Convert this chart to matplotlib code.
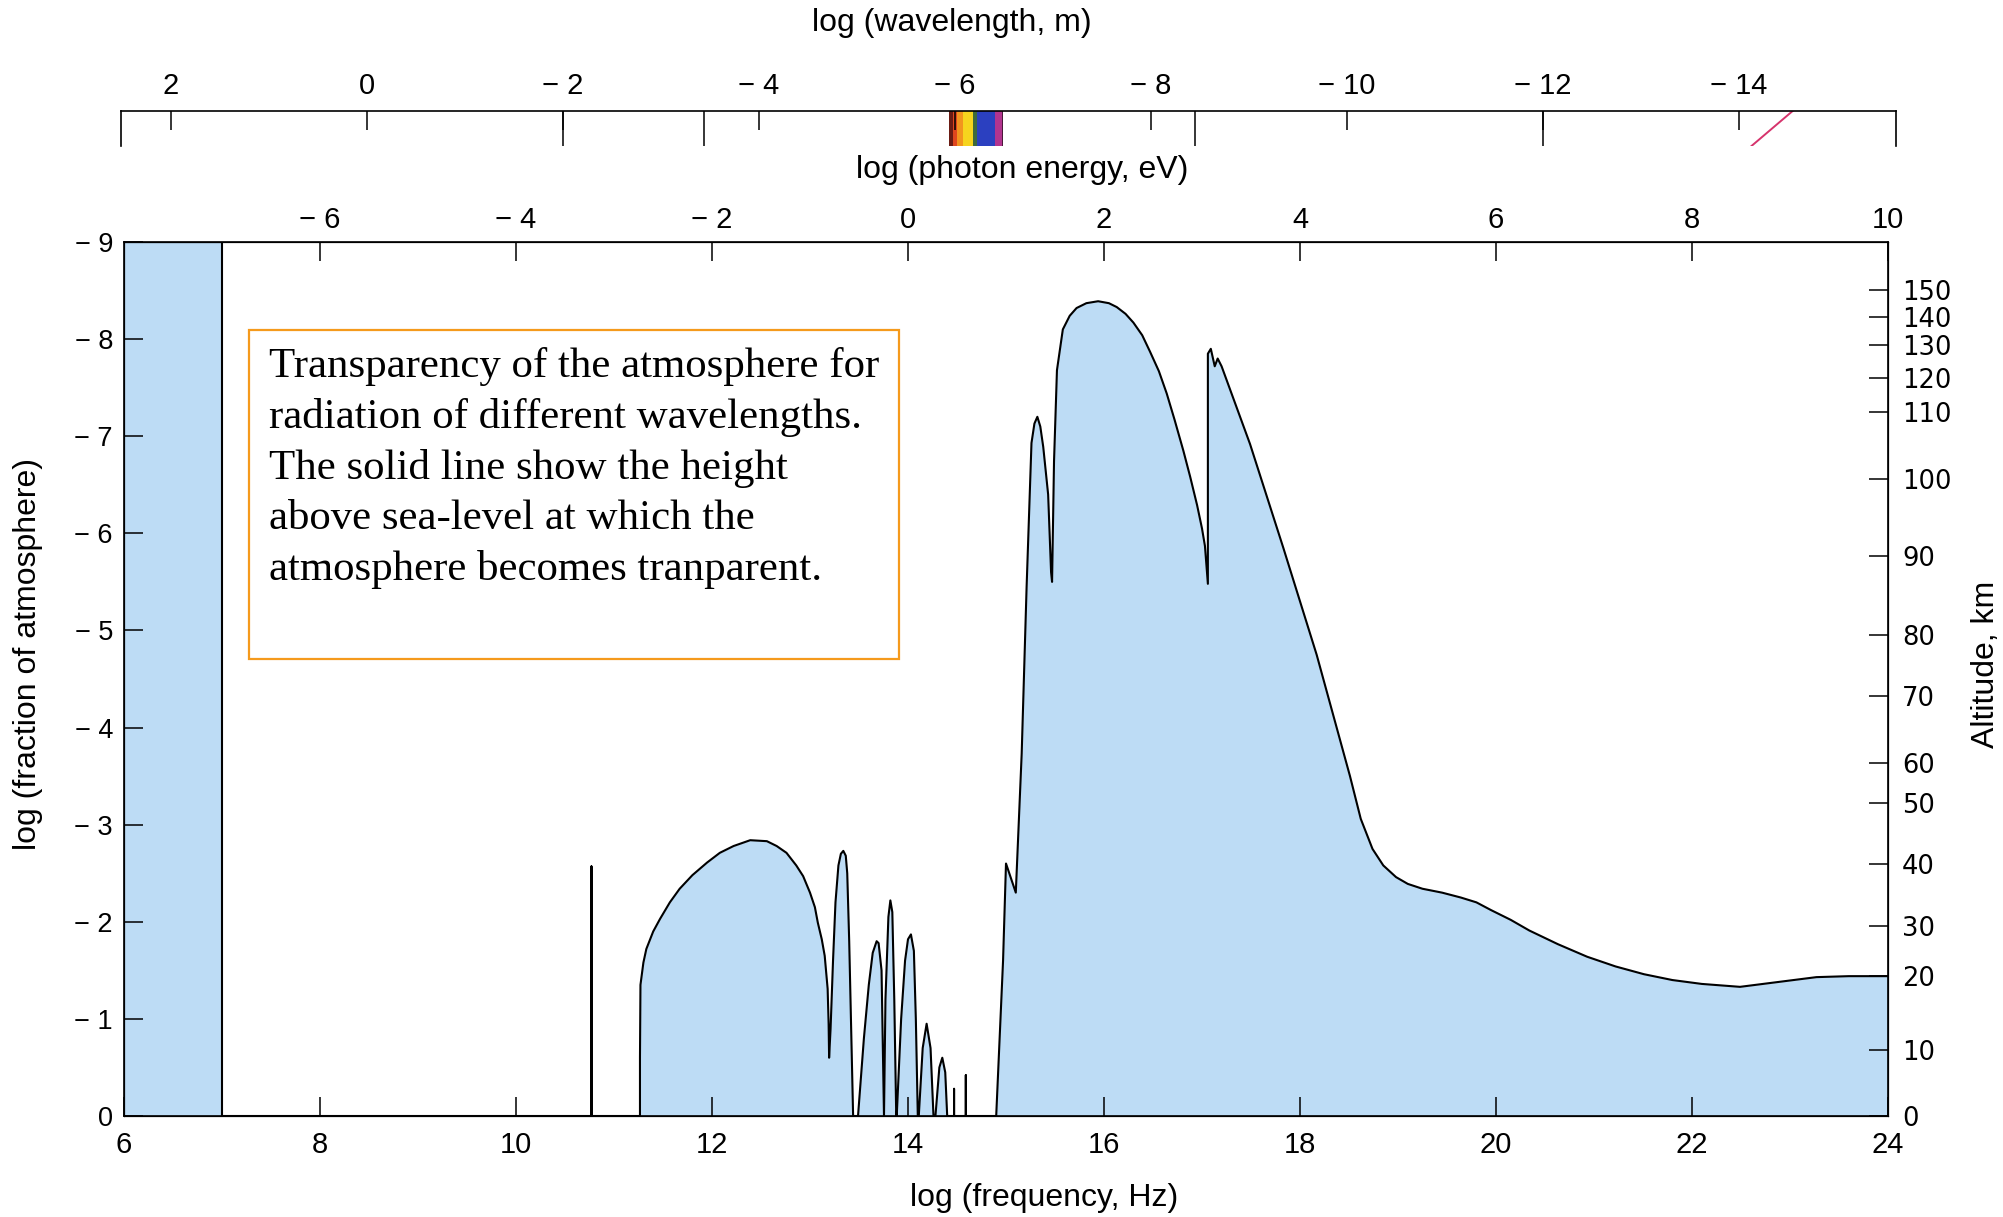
import numpy as np
import matplotlib
matplotlib.use("Agg")
import matplotlib.pyplot as plt
from matplotlib.patches import Rectangle

# --- data ---
# transparency curve: log frequency (Hz) vs log fraction of atmosphere above
FREQ = [6.0, 7.0, 7.0, 10.77, 10.77, 10.77,
        11.265, 11.265, 11.27, 11.30, 11.33, 11.40, 11.47, 11.57, 11.67, 11.80,
        11.95, 12.08, 12.22, 12.39, 12.56, 12.66, 12.76, 12.86, 12.93, 13.00,
        13.05, 13.08, 13.12, 13.15, 13.18, 13.19, 13.195, 13.21, 13.235, 13.26,
        13.29, 13.315, 13.34, 13.365, 13.38, 13.40, 13.42, 13.44,
        13.49, 13.55, 13.60, 13.64, 13.68, 13.70, 13.73, 13.755,
        13.77, 13.80, 13.82, 13.84, 13.86, 13.88,
        13.885, 13.93, 13.97, 14.00, 14.03, 14.06, 14.08, 14.10,
        14.11, 14.15, 14.19, 14.23, 14.26,
        14.28, 14.32, 14.35, 14.38, 14.40,
        14.47, 14.47, 14.47, 14.59, 14.59, 14.59,
        14.90, 14.97, 15.00, 15.05, 15.10, 15.16, 15.21, 15.26, 15.29, 15.32,
        15.35, 15.38, 15.43, 15.46, 15.47, 15.49, 15.52, 15.58, 15.65, 15.72,
        15.82, 15.94, 16.05, 16.13, 16.22, 16.30, 16.39, 16.47, 16.56, 16.64,
        16.72, 16.81, 16.88, 16.95, 17.00, 17.03, 17.06, 17.06, 17.09, 17.13,
        17.16, 17.20, 17.49, 17.83, 18.17, 18.51, 18.62, 18.74, 18.85, 18.98,
        19.10, 19.25, 19.45, 19.64, 19.80, 19.95, 20.15, 20.34, 20.63, 20.93,
        21.22, 21.51, 21.80, 22.10, 22.49, 22.88, 23.27, 23.60, 24.0]
LOGFRAC = [-9.0, -9.0, 0.0, 0.0, -2.57, 0.0,
           0.0, -0.6, -1.35, -1.58, -1.72, -1.90, -2.03, -2.20, -2.34, -2.48,
           -2.61, -2.71, -2.78, -2.84, -2.83, -2.78, -2.71, -2.58, -2.47, -2.30,
           -2.15, -1.99, -1.82, -1.65, -1.31, -0.95, -0.6, -0.9, -1.6, -2.2,
           -2.58, -2.70, -2.73, -2.68, -2.5, -1.8, -0.9, 0.0,
           0.0, -0.8, -1.35, -1.68, -1.80, -1.78, -1.5, 0.0,
           -1.2, -2.05, -2.22, -2.1, -1.2, 0.0,
           0.0, -1.0, -1.6, -1.82, -1.87, -1.7, -1.0, 0.0,
           0.0, -0.7, -0.95, -0.7, 0.0,
           0.0, -0.5, -0.6, -0.45, 0.0,
           0.0, -0.28, 0.0, 0.0, -0.42, 0.0,
           0.0, -1.6, -2.6, -2.45, -2.3, -3.73, -5.44, -6.93, -7.13, -7.2,
           -7.1, -6.89, -6.4, -5.6, -5.5, -6.74, -7.68, -8.10, -8.24, -8.32,
           -8.37, -8.39, -8.37, -8.33, -8.26, -8.17, -8.04, -7.87, -7.67, -7.44,
           -7.17, -6.85, -6.58, -6.29, -6.05, -5.87, -5.48, -7.85, -7.9, -7.72,
           -7.80, -7.72, -6.92, -5.85, -4.75, -3.5, -3.06, -2.75, -2.58, -2.46,
           -2.39, -2.34, -2.30, -2.25, -2.2, -2.12, -2.02, -1.91, -1.77, -1.64,
           -1.54, -1.46, -1.40, -1.36, -1.33, -1.38, -1.43, -1.44, -1.44]

FREQ_TICKS = [6, 8, 10, 12, 14, 16, 18, 20, 22, 24]
FRAC_TICKS = [0, -1, -2, -3, -4, -5, -6, -7, -8, -9]
ENERGY_TICKS = [-6, -4, -2, 0, 2, 4, 6, 8, 10]
ENERGY_OFFSET = 14  # log E(eV) as drawn = log f - 14

ALT_KM = [0, 10, 20, 30, 40, 50, 60, 70, 80, 90, 100, 110, 120, 130, 140, 150]
ALT_POS = [0.0, 0.68, 1.44, 1.96, 2.59, 3.22, 3.64, 4.32, 4.95, 5.77, 6.56,
           7.25, 7.60, 7.94, 8.23, 8.51]

LOG_C = 8.477  # log wavelength = LOG_C - log f
WAVE_TICKS = [2, 0, -2, -4, -6, -8, -10, -12, -14]
WAVE_LONG_TICKS = [-2, -3.44, -8.45, -12]
RAINBOW_EDGES = [-5.944, -5.985, -6.020, -6.087, -6.183, -6.224, -6.411, -6.479, -6.495]
RAINBOW_COLORS = ['#6b1c14', '#e0461e', '#f2941e', '#f6d41e', '#3e6a3c',
                  '#2b40c0', '#b2348f', '#4a1a3a']
PINK_LINE = [-14.13, -14.55]

NOTE = ("Transparency of the atmosphere for\n"
        "radiation of different wavelengths.\n"
        "The solid line show the height\n"
        "above sea-level at which the\n"
        "atmosphere becomes tranparent.")

FILL = '#bddcf5'
SANS_N = ['Liberation Sans Narrow', 'Liberation Sans', 'DejaVu Sans']
SANS = ['Liberation Sans', 'DejaVu Sans']
SANS_W = ['DejaVu Sans']


def lab(v):
    # scanned labels put a gap between the minus sign and the digits
    return '\u2212 ' + str(-v) if v < 0 else str(v)


W, H = 2003, 1217
fig = plt.figure(figsize=(W / 100, H / 100), dpi=100)

def fx(px):
    return px / W

def fy(py):
    return 1 - py / H

# main axes (pixel box 124..1888 x 242..1116)
ax = fig.add_axes([fx(124), fy(1116), fx(1888 - 124), (1116 - 242) / H])
ax.fill_between(FREQ, LOGFRAC, 0, color=FILL, linewidth=0)
ax.plot(FREQ, LOGFRAC, color='black', lw=1.5, solid_joinstyle='round')
ax.set_xlim(6, 24)
ax.set_ylim(0, -9)
for s in ax.spines.values():
    s.set_linewidth(1.2)

ax.set_xticks(FREQ_TICKS)
ax.set_xticklabels([lab(t) for t in FREQ_TICKS], family=SANS, fontsize=21)
ax.set_yticks(FRAC_TICKS)
ax.set_yticklabels([lab(t) for t in FRAC_TICKS], family=SANS, fontsize=19.5)
ax.tick_params(axis='x', direction='in', length=14, width=1.1, pad=11)
ax.tick_params(axis='y', direction='in', length=14, width=1.1, pad=8)

# photon energy axis on top
ax_e = ax.twiny()
ax_e.set_xlim(6 - ENERGY_OFFSET, 24 - ENERGY_OFFSET)
ax_e.set_xticks(ENERGY_TICKS)
ax_e.set_xticklabels([lab(t) for t in ENERGY_TICKS], family=SANS, fontsize=21)
ax_e.tick_params(axis='x', direction='in', length=14, width=1.1, pad=6)

# altitude axis on the right
ax_r = ax.twinx()
ax_r.set_ylim(0, 9)
ax_r.set_yticks(ALT_POS)
ax_r.set_yticklabels([str(a) for a in ALT_KM], family=SANS_W, fontsize=18.5)
ax_r.tick_params(axis='y', direction='in', length=14, width=1.1, pad=10)

# wavelength strip
wl_left = LOG_C - (6 - 3 / 98)
wl_right = LOG_C - (24 + 8 / 98)
ax_w = fig.add_axes([fx(121), fy(146), fx(1896 - 121), (146 - 111) / H])
ax_w.set_xlim(wl_left, wl_right)
ax_w.set_ylim(0, 1)
ax_w.spines['bottom'].set_visible(False)
for s in ['top', 'left', 'right']:
    ax_w.spines[s].set_linewidth(1.2)
ax_w.set_yticks([])
ax_w.xaxis.set_ticks_position('top')
ax_w.set_xticks(WAVE_TICKS)
ax_w.set_xticklabels([lab(t) for t in WAVE_TICKS], family=SANS, fontsize=21)
ax_w.tick_params(axis='x', direction='in', length=14, width=1.1, pad=8)
ax_w.vlines(WAVE_LONG_TICKS, 0, 1, color='black', lw=1.1)
for i, c in enumerate(RAINBOW_COLORS):
    ax_w.axvspan(RAINBOW_EDGES[i], RAINBOW_EDGES[i + 1], color=c, lw=0)
ax_w.plot(PINK_LINE, [0, 1], color='#d6336c', lw=1.4)

# axis titles
fig.text(fx(952), fy(23), 'log (wavelength, m)', family=SANS_N, fontsize=23,
         ha='center', va='center')
fig.text(fx(1022), fy(170), 'log (photon energy, eV)', family=SANS_N, fontsize=23,
         ha='center', va='center')
fig.text(fx(1044), fy(1198), 'log (frequency, Hz)', family=SANS_N, fontsize=23,
         ha='center', va='center')
fig.text(fx(28), fy(654), 'log (fraction of atmosphere)', family=SANS_N,
         fontsize=23, ha='center', va='center', rotation=90)
fig.text(fx(1986), fy(664), 'Altitude, km', family=SANS_N, fontsize=23,
         ha='center', va='center', rotation=90)

# note box
fig.patches.append(Rectangle((fx(249), fy(659)), fx(899 - 249), (659 - 330) / H,
                             transform=fig.transFigure, fill=False,
                             edgecolor='#f59a1c', lw=1.6))
fig.text(fx(269), fy(347), NOTE, family=['Liberation Serif', 'DejaVu Serif'],
         fontsize=30.9, ha='left', va='top', linespacing=1.40)

fig.savefig('out.png', dpi=100)
